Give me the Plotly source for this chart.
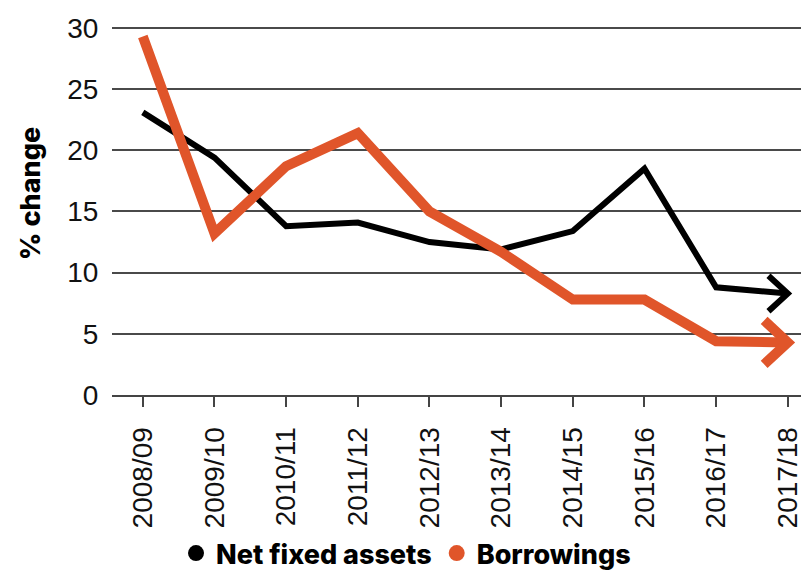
import plotly.graph_objects as go

years = ["2008/09", "2009/10", "2010/11", "2011/12", "2012/13",
         "2013/14", "2014/15", "2015/16", "2016/17", "2017/18"]
net_fixed_assets = [23.1, 19.4, 13.8, 14.1, 12.5, 11.9, 13.4, 18.5, 8.8, 8.3]
borrowings = [29.3, 13.2, 18.7, 21.4, 15.0, 11.7, 7.8, 7.8, 4.4, 4.3]
y_ticks = [0, 5, 10, 15, 20, 25, 30]

BLACK = "#000000"
ORANGE = "#E0552A"
TICKFONT = dict(family="Liberation Sans", size=28, color="#111")
xs = list(range(len(years)))

fig = go.Figure()

def add_series(name, values, color, width, adx, ady):
    fig.add_trace(go.Scatter(x=xs, y=values, mode="lines", showlegend=False,
                             line=dict(color=color, width=width),
                             hoverinfo="skip"))
    xl, yl = xs[-1], values[-1]
    fig.add_trace(go.Scatter(x=[xl - adx, xl, xl - adx], y=[yl + ady, yl, yl - ady],
                             mode="lines", showlegend=False,
                             line=dict(color=color, width=width),
                             hoverinfo="skip"))
    fig.add_trace(go.Scatter(x=[None], y=[None], mode="markers", name=name,
                             marker=dict(color=color, size=22, symbol="circle")))

add_series("Net fixed assets", net_fixed_assets, BLACK, 6, 0.27, 1.45)
add_series("Borrowings", borrowings, ORANGE, 10, 0.33, 1.8)

fig.update_layout(
    width=809, height=570,
    margin=dict(l=104, r=12, t=12, b=183),
    paper_bgcolor="white", plot_bgcolor="white",
    font=dict(family="Inter", color="#111"),
    showlegend=True,
    legend=dict(orientation="h", xref="container", x=0.492, xanchor="center",
                yref="container", y=-0.009, yanchor="bottom",
                font=dict(family="Inter", size=27, color="#000", weight=800),
                itemsizing="trace", itemwidth=30, tracegroupgap=0),
    xaxis=dict(range=[-0.43, 9.24], tickmode="array", tickvals=xs, ticktext=years,
               tickangle=-90, ticks="outside", ticklen=10, tickwidth=2,
               tickcolor="#444", showgrid=False, zeroline=False, automargin=False,
               showline=True, linecolor="#444", linewidth=2,
               ticklabelstandoff=9, tickfont=TICKFONT),
    yaxis=dict(range=[0, 30.65], tickmode="array", tickvals=y_ticks,
               showgrid=True, gridcolor="#4a4a4a", gridwidth=2, zeroline=False,
               showline=False, ticks="outside", ticklen=7,
               tickcolor="rgba(0,0,0,0)", automargin=False,
               tickfont=TICKFONT),
    annotations=[dict(text="% change", xref="paper", yref="paper",
                      x=-0.118, y=0.536, xanchor="center", yanchor="middle",
                      textangle=-90, showarrow=False,
                      font=dict(family="Inter", size=27, color="#000", weight=800))],
)

fig.write_html("out.html")
